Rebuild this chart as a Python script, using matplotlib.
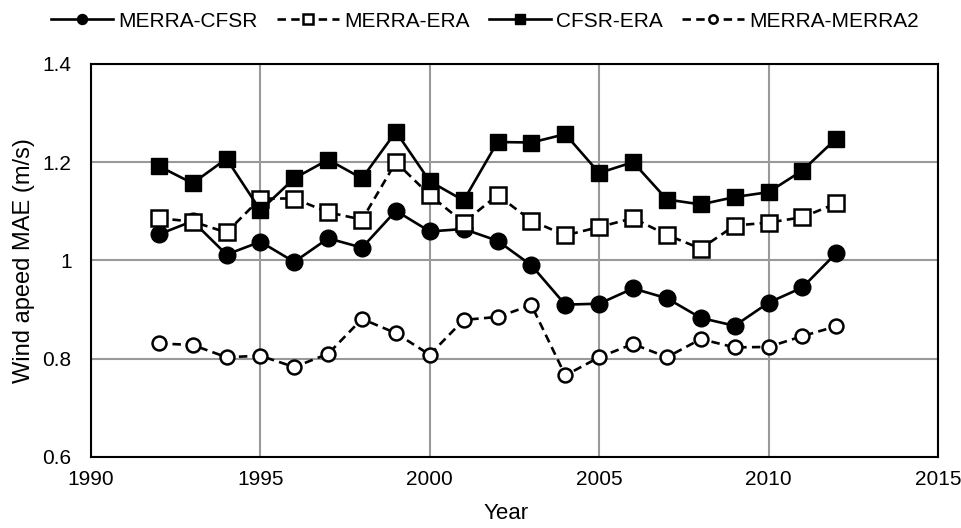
import matplotlib
matplotlib.use("Agg")
import matplotlib.pyplot as plt

plt.rcParams['font.family'] = ['Liberation Sans', 'DejaVu Sans']

years = list(range(1992, 2013))
merra_cfsr = [1.053, 1.080, 1.012, 1.038, 0.997, 1.045, 1.026, 1.101, 1.059, 1.064, 1.040,
              0.990, 0.910, 0.912, 0.943, 0.923, 0.883, 0.867, 0.914, 0.945, 1.015]
merra_era = [1.086, 1.079, 1.057, 1.126, 1.126, 1.098, 1.083, 1.200, 1.133, 1.077, 1.133,
             1.081, 1.051, 1.068, 1.086, 1.052, 1.024, 1.071, 1.077, 1.088, 1.116]
cfsr_era = [1.192, 1.157, 1.207, 1.102, 1.167, 1.205, 1.167, 1.262, 1.161, 1.122, 1.241,
            1.240, 1.257, 1.178, 1.200, 1.124, 1.114, 1.129, 1.139, 1.183, 1.248]
merra_merra2 = [0.831, 0.828, 0.803, 0.806, 0.783, 0.810, 0.881, 0.852, 0.808, 0.879, 0.885,
                0.909, 0.766, 0.803, 0.830, 0.803, 0.840, 0.823, 0.824, 0.846, 0.866]

fig = plt.figure(figsize=(9.62, 5.28), dpi=100)
ax = fig.add_axes([0.0946, 0.1345, 0.8804, 0.7445])

lw = 1.9
dash = (3.2, 2)
ax.plot(years, merra_cfsr, '-', color='black', lw=lw, marker='o', ms=12,
        mfc='black', mec='black', label='MERRA-CFSR', zorder=3)
ax.plot(years, merra_era, '--', color='black', lw=lw, marker='s', ms=11,
        mfc='white', mec='black', mew=1.8, dashes=dash, label='MERRA-ERA', zorder=3)
ax.plot(years, cfsr_era, '-', color='black', lw=lw, marker='s', ms=11.5,
        mfc='black', mec='black', label='CFSR-ERA', zorder=3)
ax.plot(years, merra_merra2, '--', color='black', lw=lw, marker='o', ms=10,
        mfc='white', mec='black', mew=1.8, dashes=dash, label='MERRA-MERRA2', zorder=3)

ax.set_xlim(1990, 2015)
ax.set_ylim(0.6, 1.4)
ax.set_xticks([1990, 1995, 2000, 2005, 2010, 2015])
ax.set_yticks([0.6, 0.8, 1.0, 1.2, 1.4])
ax.set_yticklabels(['0.6', '0.8', '1', '1.2', '1.4'])
ax.tick_params(length=0, labelsize=15)
ax.tick_params(axis='x', pad=9.5)
ax.tick_params(axis='y', pad=14)
ax.grid(True, color='#999999', lw=1.5)
ax.set_axisbelow(True)
for s in ax.spines.values():
    s.set_linewidth(1.5)
    s.set_color('black')

ax.set_xlabel('Year', fontsize=16)
ax.xaxis.set_label_coords(0.49, -0.118)
ax.set_ylabel('Wind apeed MAE (m/s)', fontsize=17)
ax.yaxis.set_label_coords(-0.066, 0.5)

fig.legend(loc='center', bbox_to_anchor=(485 / 962, 0.96), ncol=4, frameon=False,
           fontsize=15, handlelength=3.0, markerscale=0.6, columnspacing=0.9,
           handletextpad=0.25, borderaxespad=0)

fig.savefig('out.png', dpi=100)
